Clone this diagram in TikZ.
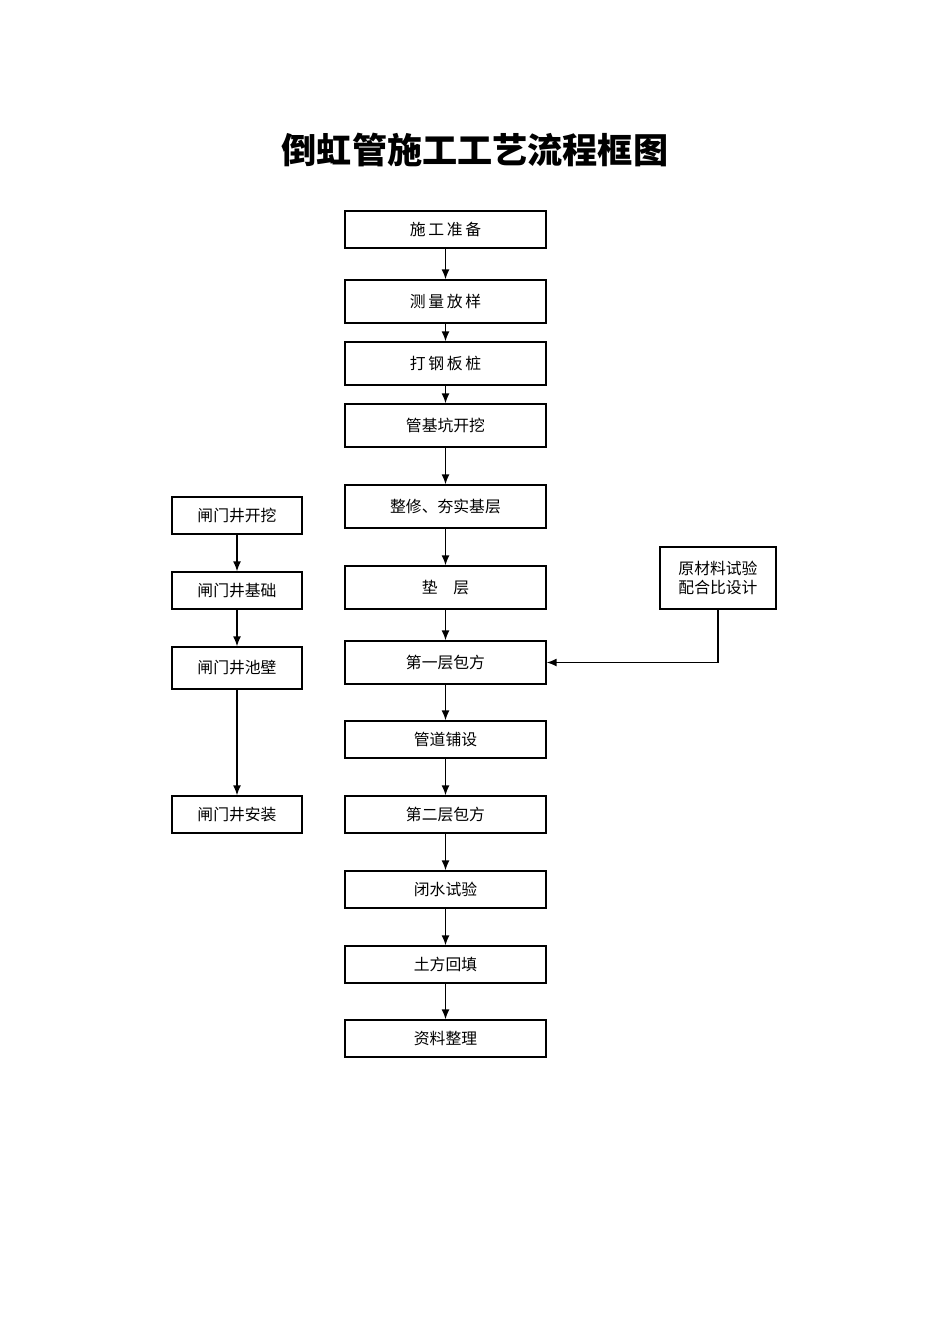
\documentclass[tikz,border=0pt]{standalone}
\usepackage{fontspec}
\newfontfamily\cjk{Noto Sans CJK SC}
\usetikzlibrary{arrows.meta, positioning}

\tikzset{
  procbox/.style={draw, thick, rectangle, minimum width=4.02cm, minimum height=0.8cm, font=\cjk\fontsize{9}{11}\selectfont},
  side/.style={procbox, minimum width=2.6cm},
  flow/.style={thick, -{Latex[length=2mm, width=1.6mm]}}
}

\begin{document}
\begin{tikzpicture}[x=0.02cm, y=-0.02cm]
    \useasboundingbox (0,0) rectangle (950,1344);

    % Title
    \node[font=\cjk\bfseries\fontsize{20}{24}\selectfont] (title) at (475,150) {倒虹管施工工艺流程框图};

    % Main column
    \node[procbox, minimum height=0.74cm] (prep)   at (445.5,229.5) {施\,工\,准\,备};
    \node[procbox, minimum height=0.86cm] (survey) at (445.5,301.5) {测\,量\,放\,样};
    \node[procbox, minimum height=0.86cm] (pile)   at (445.5,363.5) {打\,钢\,板\,桩};
    \node[procbox, minimum height=0.86cm] (pit)    at (445.5,425.5) {管基坑开挖};
    \node[procbox, minimum height=0.86cm] (base)   at (445.5,506.5) {整修、夯实基层};
    \node[procbox, minimum height=0.86cm] (cushion) at (445.5,587.5) {垫\quad 层};
    \node[procbox, minimum height=0.86cm] (wrapA)  at (445.5,662.5) {第一层包方};
    \node[procbox, minimum height=0.74cm] (lay)    at (445.5,739.5) {管道铺设};
    \node[procbox, minimum height=0.74cm] (wrapB)  at (445.5,814.5) {第二层包方};
    \node[procbox, minimum height=0.74cm] (closed) at (445.5,889.5) {闭水试验};
    \node[procbox, minimum height=0.74cm] (fill)   at (445.5,964.5) {土方回填};
    \node[procbox, minimum height=0.74cm] (docs)   at (445.5,1038.5) {资料整理};

    % Sluice well column
    \node[side, minimum height=0.74cm] (wellDig)   at (237,515.5) {闸门井开挖};
    \node[side, minimum height=0.74cm] (wellBase)  at (237,590.5) {闸门井基础};
    \node[side, minimum height=0.84cm] (wellWall)  at (237,668) {闸门井池壁};
    \node[side, minimum height=0.74cm] (wellSet)   at (237,814.5) {闸门井安装};

    % Materials test
    \node[procbox, minimum width=2.32cm, minimum height=1.24cm, align=left] (mat) at (718,578) {原材料试验\\配合比设计};

    % Main flow
    \draw[flow] (prep) -- (survey);
    \draw[flow] (survey) -- (pile);
    \draw[flow] (pile) -- (pit);
    \draw[flow] (pit) -- (base);
    \draw[flow] (base) -- (cushion);
    \draw[flow] (cushion) -- (wrapA);
    \draw[flow] (wrapA) -- (lay);
    \draw[flow] (lay) -- (wrapB);
    \draw[flow] (wrapB) -- (closed);
    \draw[flow] (closed) -- (fill);
    \draw[flow] (fill) -- (docs);

    % Side flows
    \draw[flow] (wellDig) -- (wellBase);
    \draw[flow] (wellBase) -- (wellWall);
    \draw[flow] (wellWall) -- (wellSet);
    \draw[flow] (mat.south) |- (wrapA.east);
\end{tikzpicture}
\end{document}
